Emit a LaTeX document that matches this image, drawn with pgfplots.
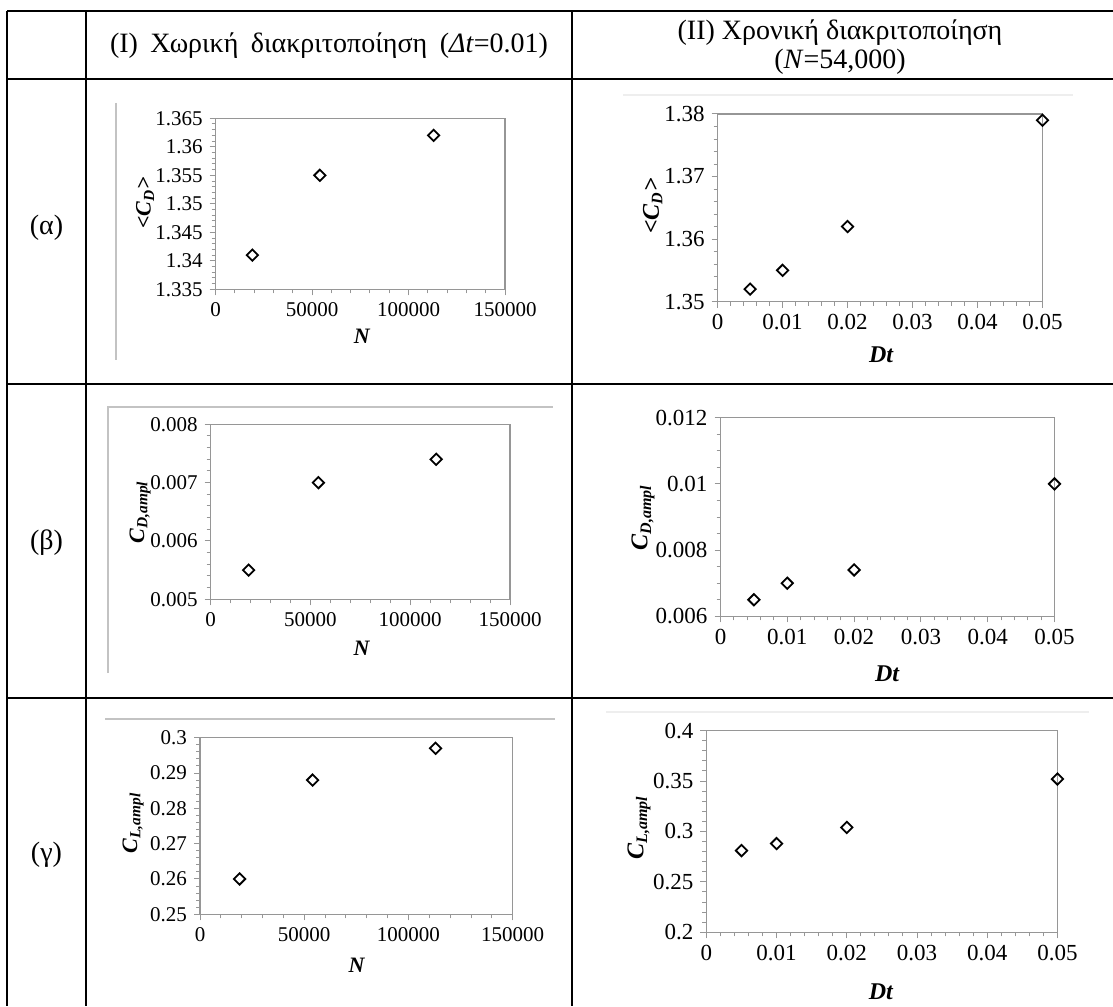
\documentclass[border=0pt]{standalone}
\usepackage{fontspec}
\setmainfont{Liberation Serif}
\usepackage{pgfplots}
\pgfplotsset{compat=1.18}

\definecolor{axgray}{RGB}{150,150,150}
\definecolor{areagray}{RGB}{195,195,195}
\definecolor{faintgray}{RGB}{238,238,238}

\newcommand{\hdrfont}{\fontsize{14}{14.5}\selectfont}

\pgfplotsset{
  excelpanel/.style={
    scale only axis,
    clip=false,
    axis line style={axgray, line width=0.6pt},
    tick style={axgray, line width=0.5pt},
    major tick length=3pt, minor tick length=2pt,
    tick align=outside,
    tick pos=left,
    /pgf/number format/assume math mode=true,
    scaled ticks=false,
    /pgf/number format/fixed,
    /pgf/number format/precision=3,
    /pgf/number format/1000 sep={},
    ticklabel style={text=black},
    xlabel style={anchor=center},
    ylabel style={anchor=center},
  },
  leftfonts/.style={
    ticklabel style={font=\fontsize{10.5}{12}\selectfont},
    label style={font=\fontsize{11}{12}\selectfont\bfseries\itshape}},
  rightfonts/.style={
    ticklabel style={font=\fontsize{11.5}{13}\selectfont},
    label style={font=\fontsize{12}{13}\selectfont\bfseries\itshape}},
  diam/.style={only marks, mark=square, mark size=2pt,
    mark options={rotate=45, line width=0.9pt, draw=black, fill=white}},
  Naxis/.style={leftfonts, xmin=0, xmax=150000, xtick={0,50000,100000,150000},
    minor x tick num=4, xlabel={N}},
  Dtaxis/.style={rightfonts, xmin=0, xmax=0.05, xtick={0,0.01,0.02,0.03,0.04,0.05},
    minor x tick num=4, xlabel={Dt}},
}

\begin{document}
\begin{tikzpicture}
\begin{scope}[x=0.5pt, y=-0.5pt]
  \useasboundingbox (0,0) rectangle (1113,1006);
  % table grid
  \draw[line width=1pt] (7,11) -- (1113,11);
  \draw[line width=1pt] (7,79) -- (1113,79);
  \draw[line width=1pt] (7,384) -- (1113,384);
  \draw[line width=1pt] (7,698) -- (1113,698);
  \draw[line width=1pt] (7,11) -- (7,1006);
  \draw[line width=1pt] (86,11) -- (86,1006);
  \draw[line width=1pt] (572,11) -- (572,1006);
  % column headings
  \node[font=\hdrfont] at (329,46) {\makebox[219pt][s]{(I)\nobreakspace Χωρική διακριτοποίηση (\textit{Δt}=0.01)}};
  \node[font=\hdrfont, align=center] at (840,47.5) {(II) Χρονική διακριτοποίηση\\(\textit{N}=54,000)};
  % row labels
  \node[font=\hdrfont] at (46.5,228) {(α)};
  \node[font=\hdrfont] at (46.5,543) {(β)};
  \node[font=\hdrfont] at (46.5,855) {(γ)};
  % chart-area frames of the embedded charts
  \draw[areagray, line width=0.8pt] (116,103) -- (116,360);
  \draw[faintgray, line width=0.8pt] (623,95) -- (1073,95);
  \draw[areagray, line width=0.8pt] (108,673) -- (108,407) -- (553,407);
  \draw[areagray, line width=0.8pt] (105,719) -- (555,719);
  \draw[faintgray, line width=0.8pt] (606,712) -- (1089,712);
  % axis anchors (lower-left corners)
  \coordinate (A1) at (215.7,289.3);
  \coordinate (A2) at (717.6,301.6);
  \coordinate (B1) at (210.7,599.3);
  \coordinate (B2) at (720.5,616.3);
  \coordinate (C1) at (200,914.3);
  \coordinate (C2) at (706.4,932.3);
\end{scope}

% (alpha, I)
\begin{axis}[excelpanel, Naxis, at={(A1)}, anchor=south west,
  width=144.65pt, height=85.5pt,
  ymin=1.335, ymax=1.365, ytick={1.335,1.34,1.345,1.35,1.355,1.36,1.365},
  minor y tick num=4,
  ylabel={<C\textsubscript{D}>},
  xlabel style={at={(axis description cs:0.505,-0.277)}},
  ylabel style={at={(axis description cs:-0.244,0.505)}}]
\addplot[diam] coordinates {(19000,1.341) (54000,1.355) (113000,1.362)};
\end{axis}

% (alpha, II)
\begin{axis}[excelpanel, Dtaxis, at={(A2)}, anchor=south west,
  width=162.45pt, height=93.8pt,
  ymin=1.35, ymax=1.38, ytick={1.35,1.36,1.37,1.38},
  minor y tick num=4,
  ylabel={<C\textsubscript{D}>},
  xlabel style={at={(axis description cs:0.503,-0.282)}},
  ylabel style={at={(axis description cs:-0.2,0.51)}}]
\addplot[diam] coordinates {(0.005,1.352) (0.01,1.355) (0.02,1.362) (0.05,1.379)};
\end{axis}

% (beta, I)
\begin{axis}[excelpanel, Naxis, at={(B1)}, anchor=south west,
  width=149.65pt, height=87.5pt,
  ymin=0.005, ymax=0.008, ytick={0.005,0.006,0.007,0.008},
  minor y tick num=4,
  ylabel={C\textsubscript{D,ampl}},
  xlabel style={at={(axis description cs:0.504,-0.28)}},
  ylabel style={at={(axis description cs:-0.236,0.499)}}]
\addplot[diam] coordinates {(19000,0.0055) (54000,0.007) (113000,0.0074)};
\end{axis}

% (beta, II)
\begin{axis}[excelpanel, Dtaxis, at={(B2)}, anchor=south west,
  width=167pt, height=99.3pt,
  ymin=0.006, ymax=0.012, ytick={0.006,0.008,0.01,0.012},
  minor y tick num=3,
  ylabel={C\textsubscript{D,ampl}},
  xlabel style={at={(axis description cs:0.4985,-0.288)}},
  ylabel style={at={(axis description cs:-0.232,0.497)}}]
\addplot[diam] coordinates {(0.005,0.0065) (0.01,0.007) (0.02,0.0074) (0.05,0.01)};
\end{axis}

% (gamma, I)
\begin{axis}[excelpanel, Naxis, at={(C1)}, anchor=south west,
  width=156.35pt, height=88.3pt,
  ymin=0.25, ymax=0.3, ytick={0.25,0.26,0.27,0.28,0.29,0.3},
  minor y tick num=4,
  ylabel={C\textsubscript{L,ampl}},
  xlabel style={at={(axis description cs:0.501,-0.287)}},
  ylabel style={at={(axis description cs:-0.214,0.517)}}]
\addplot[diam] coordinates {(19000,0.26) (54000,0.288) (113000,0.297)};
\end{axis}

% (gamma, II)
\begin{axis}[excelpanel, Dtaxis, at={(C2)}, anchor=south west,
  width=175.5pt, height=100.85pt,
  ymin=0.2, ymax=0.4, ytick={0.2,0.25,0.3,0.35,0.4},
  minor y tick num=4,
  ylabel={C\textsubscript{L,ampl}},
  xlabel style={at={(axis description cs:0.497,-0.294)}},
  ylabel style={at={(axis description cs:-0.192,0.519)}}]
\addplot[diam] coordinates {(0.005,0.281) (0.01,0.288) (0.02,0.304) (0.05,0.352)};
\end{axis}
\end{tikzpicture}
\end{document}
